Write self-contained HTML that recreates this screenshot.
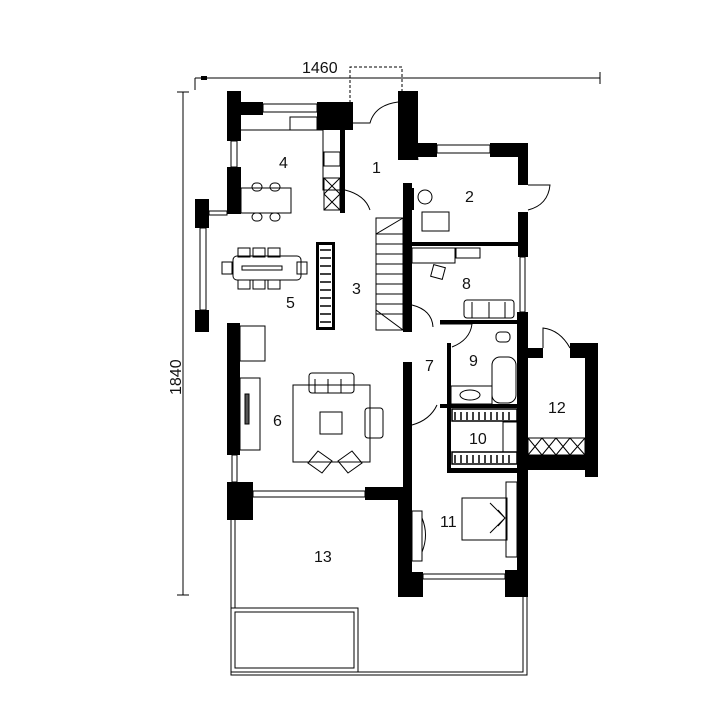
<!DOCTYPE html>
<html><head><meta charset="utf-8"><style>
html,body{margin:0;padding:0;background:#fff}
svg{display:block}
text{font-family:"Liberation Sans",sans-serif;font-size:16px;fill:#111}
</style></head><body>
<svg width="720" height="720" viewBox="0 0 720 720" xmlns="http://www.w3.org/2000/svg">
<g stroke="#000" stroke-width="1" fill="none">
<line x1="195" y1="78" x2="600" y2="78"/>
<line x1="195" y1="78" x2="195" y2="90"/>
<line x1="600" y1="72" x2="600" y2="84"/>
<line x1="183" y1="92" x2="183" y2="595"/>
<line x1="177" y1="92" x2="189" y2="92"/>
<line x1="177" y1="595" x2="189" y2="595"/>
<path d="M350 103 V67 H402 V103" stroke-dasharray="3,2"/>
</g>
<rect x="201" y="76" width="6" height="4" fill="#000"/>
<text x="302" y="73">1460</text>
<text x="0" y="0" transform="translate(181,395) rotate(-90)">1840</text>

<g fill="#000">
<rect x="227" y="91" width="14" height="50"/>
<rect x="227" y="102" width="36" height="13"/>
<rect x="317" y="102" width="36" height="28"/>
<rect x="340" y="102" width="5" height="111"/>
<rect x="227" y="167" width="14" height="47"/>
<rect x="195" y="199" width="14" height="29"/>
<rect x="195" y="310" width="14" height="22"/>
<rect x="227" y="323" width="13" height="132"/>
<rect x="227" y="482" width="26" height="38"/>
<rect x="365" y="487" width="45" height="13"/>
<rect x="403" y="362" width="9" height="135"/>
<rect x="398" y="490" width="14" height="107"/>
<rect x="412" y="572" width="11" height="25"/>
<rect x="398" y="91" width="20" height="69"/>
<rect x="405" y="143" width="32" height="14"/>
<rect x="490" y="143" width="38" height="14"/>
<rect x="518" y="143" width="10" height="42"/>
<rect x="518" y="212" width="10" height="45"/>
<rect x="517" y="312" width="11" height="285"/>
<rect x="505" y="570" width="23" height="27"/>
<rect x="403" y="183" width="9" height="149"/>
<rect x="410" y="242" width="110" height="4"/>
<rect x="440" y="320" width="80" height="4"/>
<rect x="447" y="343" width="4" height="130"/>
<rect x="440" y="404" width="80" height="4"/>
<rect x="447" y="468" width="73" height="5"/>
<rect x="528" y="348" width="15" height="10"/>
<rect x="570" y="343" width="17" height="15"/>
<rect x="585" y="343" width="13" height="134"/>
<rect x="520" y="455" width="78" height="15"/>
<rect x="408" y="188" width="6" height="22"/>
</g>

<g fill="#fff" stroke="#000" stroke-width="1">
<rect x="263" y="104" width="54" height="8"/>
<rect x="231" y="141" width="6" height="26"/>
<rect x="200" y="228" width="6" height="82"/>
<rect x="232" y="455" width="5" height="27"/>
<rect x="253" y="491" width="112" height="6"/>
<rect x="437" y="145" width="53" height="8"/>
<rect x="520" y="257" width="5" height="55"/>
<rect x="423" y="574" width="82" height="5"/>
<rect x="209" y="211" width="18" height="4"/>
</g>

<g fill="none" stroke="#000" stroke-width="1">
<path d="M353 123 H370 Q375 105 398 102"/>
<path d="M345 190 Q365 195 370 210"/>
<path d="M418 160 Q415 148 432 146"/>
<path d="M528 185 H550 Q548 205 528 210"/>
<path d="M543 348 V328 Q560 330 570 348"/>
<path d="M412 305 Q432 310 433 327"/>
<path d="M440 324 H472 Q470 340 452 347"/>
<path d="M412 425 Q430 420 437 405"/>
</g>

<g fill="none" stroke="#000" stroke-width="1">
<path d="M231 520 V675 H527 V597"/>
<path d="M235 520 V608"/>
<path d="M357 672 H523 V597"/>
<rect x="231" y="608" width="127" height="64"/>
<rect x="235" y="612" width="119" height="56"/>
</g>

<g fill="none" stroke="#000" stroke-width="1">
<rect x="376" y="218" width="27" height="112"/>
<path d="M376 234 L403 218"/>
<path d="M376 234 H403 M376 244 H403 M376 254 H403 M376 264 H403 M376 274 H403 M376 284 H403 M376 294 H403 M376 304 H403 M376 314 H403"/>
<path d="M376 310 L403 330"/>
</g>

<g fill="none" stroke="#000" stroke-width="1">
<path d="M241 130 H323 V190 H340"/>
<rect x="290" y="117" width="27" height="13"/>
<rect x="324" y="152" width="16" height="14"/>
<rect x="324" y="178" width="16" height="32"/>
<path d="M324 178 L340 194 M340 178 L324 194 M324 194 L340 210 M340 194 L324 210"/>
<rect x="241" y="188" width="50" height="25" fill="#fff"/>
<rect x="252" y="183" width="10" height="8" rx="4"/>
<rect x="270" y="183" width="10" height="8" rx="4"/>
<rect x="252" y="213" width="10" height="8" rx="4"/>
<rect x="270" y="213" width="10" height="8" rx="4"/>
</g>

<g fill="none" stroke="#000" stroke-width="1">
<rect x="233" y="256" width="68" height="24" rx="4"/>
<rect x="242" y="266" width="40" height="4"/>
<rect x="238" y="248" width="12" height="9"/><rect x="253" y="248" width="12" height="9"/><rect x="268" y="248" width="12" height="9"/>
<rect x="238" y="280" width="12" height="9"/><rect x="253" y="280" width="12" height="9"/><rect x="268" y="280" width="12" height="9"/>
<rect x="222" y="262" width="10" height="12"/><rect x="297" y="262" width="10" height="12"/>
</g>
<rect x="316" y="242" width="19" height="88" fill="#000"/>
<rect x="319" y="245" width="13" height="82" fill="#fff"/>
<path d="M320 250 H331 M320 258 H331 M320 266 H331 M320 274 H331 M320 282 H331 M320 290 H331 M320 298 H331 M320 306 H331 M320 314 H331 M320 322 H331" stroke="#000" stroke-width="1.5"/>

<g fill="none" stroke="#000" stroke-width="1">
<rect x="240" y="326" width="25" height="35"/>
<rect x="240" y="378" width="20" height="72"/>
<rect x="245" y="394" width="4" height="30" fill="#555"/>
<rect x="293" y="385" width="77" height="77"/>
<rect x="320" y="412" width="22" height="22"/>
<rect x="309" y="373" width="45" height="20" rx="3"/>
<path d="M315 379 V393 M328 379 V393 M341 379 V393"/>
<rect x="365" y="408" width="18" height="30" rx="3"/>
<path d="M308 463 l10 -12 l14 10 l-10 12 z M338 461 l14 -10 l10 12 l-14 10 z"/>
</g>

<g fill="none" stroke="#000" stroke-width="1">
<circle cx="425" cy="197" r="7"/>
<rect x="422" y="212" width="27" height="19"/>
<rect x="412" y="248" width="43" height="15"/>
<rect x="456" y="248" width="24" height="10"/>
<rect x="432" y="266" width="12" height="12" transform="rotate(15 438 272)"/>
<rect x="464" y="300" width="50" height="18" rx="3"/>
<path d="M472 302 V318 M489 302 V318 M505 302 V318"/>
<rect x="492" y="357" width="24" height="46" rx="8"/>
<rect x="451" y="386" width="41" height="18"/>
<ellipse cx="470" cy="395" rx="10" ry="5"/>
<rect x="496" y="332" width="14" height="10" rx="4"/>
<rect x="503" y="422" width="14" height="30"/>
</g>
<g stroke="#000" stroke-width="1.5">
<rect x="452" y="409" width="65" height="12" fill="none"/>
<path d="M455 412 V420 M461 412 V420 M467 412 V420 M473 412 V420 M479 412 V420 M485 412 V420 M491 412 V420 M497 412 V420 M503 412 V420 M509 412 V420"/>
<rect x="452" y="452" width="65" height="12" fill="none"/>
<path d="M455 455 V463 M461 455 V463 M467 455 V463 M473 455 V463 M479 455 V463 M485 455 V463 M491 455 V463 M497 455 V463 M503 455 V463 M509 455 V463"/>
</g>
<g fill="none" stroke="#000" stroke-width="1">
<rect x="528" y="438" width="57" height="17"/>
<path d="M528 438 L542 455 M542 438 L528 455 M542 438 L556 455 M556 438 L542 455 M556 438 L570 455 M570 438 L556 455 M570 438 L585 455 M585 438 L570 455"/>
</g>

<g fill="none" stroke="#000" stroke-width="1">
<rect x="462" y="498" width="45" height="42"/>
<rect x="506" y="482" width="11" height="75"/>
<path d="M490 503 L505 518 L490 533 M498 510 L505 518 L498 526"/>
<rect x="412" y="511" width="10" height="50"/>
<path d="M422 518 Q429 535 422 552"/>
</g>

<text x="372" y="173">1</text>
<text x="465" y="202">2</text>
<text x="352" y="294">3</text>
<text x="279" y="168">4</text>
<text x="286" y="308">5</text>
<text x="273" y="426">6</text>
<text x="425" y="371">7</text>
<text x="462" y="289">8</text>
<text x="469" y="366">9</text>
<text x="469" y="444">10</text>
<text x="440" y="527">11</text>
<text x="548" y="413">12</text>
<text x="314" y="562">13</text>
</svg>
</body></html>
